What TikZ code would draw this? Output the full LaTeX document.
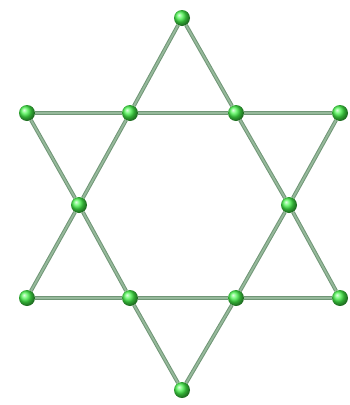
\documentclass[tikz,border=0pt]{standalone}
\usepackage{tikz}
\usetikzlibrary{backgrounds}
\definecolor{rodgray}{RGB}{112,150,118}
\definecolor{rodlight}{RGB}{150,185,155}
\definecolor{atomgreen}{RGB}{70,245,75}

\begin{document}
\begin{tikzpicture}[
    x=1pt, y=-1pt,
    atom/.style={circle, inner sep=0pt, minimum size=16pt, shading=ball, ball color=atomgreen},
    rod/.style={draw=rodgray, line width=1pt, double=rodlight, double distance=1.8pt}
]
\useasboundingbox (0,0) rectangle (350,405);
% outer points of the star
\node[atom] (top) at (182,18) {};
\node[atom] (bot) at (182,390) {};
\node[atom] (ul) at (27,113) {};
\node[atom] (ur) at (340,113) {};
\node[atom] (ll) at (27,298) {};
\node[atom] (lr) at (340,298) {};
% inner crossings
\node[atom] (tl) at (130,113) {};
\node[atom] (tr) at (236,113) {};
\node[atom] (ml) at (79,205) {};
\node[atom] (mr) at (289,205) {};
\node[atom] (bl) at (130,298) {};
\node[atom] (br) at (236,298) {};
\begin{scope}[on background layer]
% triangle pointing up
\draw[rod] (top) -- (tl);
\draw[rod] (tl) -- (ml);
\draw[rod] (ml) -- (ll);
\draw[rod] (ll) -- (bl);
\draw[rod] (bl) -- (br);
\draw[rod] (br) -- (lr);
\draw[rod] (lr) -- (mr);
\draw[rod] (mr) -- (tr);
\draw[rod] (tr) -- (top);
% triangle pointing down
\draw[rod] (ul) -- (tl);
\draw[rod] (tl) -- (tr);
\draw[rod] (tr) -- (ur);
\draw[rod] (ur) -- (mr);
\draw[rod] (mr) -- (br);
\draw[rod] (br) -- (bot);
\draw[rod] (bot) -- (bl);
\draw[rod] (bl) -- (ml);
\draw[rod] (ml) -- (ul);
\end{scope}
\end{tikzpicture}
\end{document}
